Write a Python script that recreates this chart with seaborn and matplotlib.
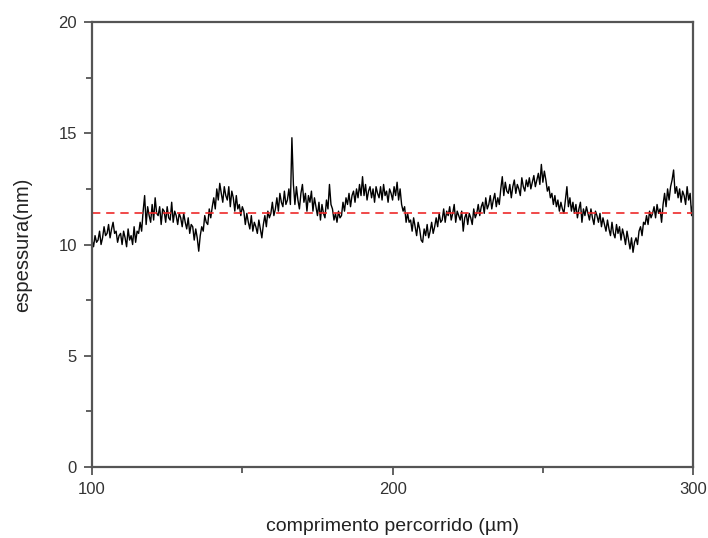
import matplotlib
matplotlib.use("Agg")
import matplotlib.pyplot as plt
from matplotlib.ticker import MultipleLocator
import numpy as np
import pandas as pd
import seaborn as sns

# Thickness profile sampled every 0.5 µm along the scan
x_start, x_stop, x_step = 100.0, 300.0, 0.5
thickness_nm = [
    10.2, 9.9, 10.4, 10.1, 10.2, 10.6, 10.0, 10.3, 10.8, 10.4,
    10.5, 10.9, 10.3, 10.7, 11.0, 10.5, 10.6, 10.1, 10.4, 10.5,
    10.0, 10.6, 10.3, 9.9, 10.7, 10.2, 10.4, 10.0, 10.8, 10.1,
    10.6, 10.5, 11.0, 10.6, 11.5, 12.2, 10.9, 11.7, 11.3, 11.0,
    11.8, 11.1, 12.1, 11.4, 11.3, 11.7, 10.9, 11.6, 11.5, 11.0,
    11.7, 11.2, 11.1, 11.9, 11.0, 11.5, 11.3, 10.9, 11.4, 11.2,
    10.8, 11.4, 11.0, 10.7, 11.2, 10.5, 10.9, 10.8, 10.2, 10.7,
    10.3, 9.7, 10.4, 10.8, 10.6, 11.3, 11.0, 10.9, 11.6, 11.2,
    11.7, 12.1, 11.6, 12.5, 12.0, 12.75, 12.3, 11.9, 12.6, 12.2,
    12.0, 12.6, 11.7, 12.4, 12.1, 11.5, 12.2, 11.6, 11.8, 11.3,
    11.7, 11.5, 10.9, 11.4, 11.0, 10.7, 11.3, 10.6, 11.0, 10.8,
    10.5, 11.1, 10.7, 10.3, 10.9, 11.3, 10.8, 11.5, 11.2, 11.4,
    11.9, 11.3, 11.6, 12.1, 11.5, 12.3, 11.9, 11.7, 12.4, 11.8,
    12.0, 12.5, 11.8, 14.8, 12.7, 11.8, 12.6, 12.0, 11.6, 12.3,
    12.7, 11.9, 12.3, 11.5, 12.2, 11.9, 12.4, 11.5, 12.1, 11.7,
    11.3, 11.9, 11.1, 11.8, 11.4, 11.2, 12.0, 11.6, 12.7, 11.8,
    11.6, 11.1, 11.4, 11.0, 11.5, 11.2, 11.3, 11.9, 11.5, 12.1,
    11.8, 12.3, 11.7, 12.2, 12.4, 11.9, 12.5, 12.1, 12.7, 12.2,
    13.05, 12.2, 12.7, 12.0, 12.4, 12.6, 12.1, 12.5, 11.9, 12.6,
    12.3, 12.1, 12.6, 12.0, 12.7, 12.2, 12.4, 11.9, 12.5, 12.3,
    12.0, 12.6, 12.2, 12.8, 12.0, 12.5, 11.8, 11.5, 11.7, 11.0,
    11.4, 11.0, 11.1, 10.6, 11.2, 10.8, 10.4, 11.0, 10.7, 10.2,
    10.1, 10.7, 10.4, 10.9, 10.3, 10.6, 11.0, 10.5, 10.8, 11.2,
    10.8, 11.4, 11.0, 11.1, 11.6, 11.0, 11.5, 11.3, 11.7, 11.1,
    11.4, 11.8, 11.0, 11.5, 11.3, 11.1, 11.5, 10.6, 11.2, 11.4,
    10.9, 11.4, 11.2, 10.9, 11.6, 11.2, 11.4, 11.8, 11.3, 11.7,
    11.9, 11.4, 12.1, 11.6, 11.8, 12.2, 11.6, 12.0, 12.3, 11.7,
    12.1, 11.8, 12.5, 13.05, 12.2, 12.8, 12.4, 12.3, 12.7, 12.1,
    12.6, 12.9, 12.3, 12.7, 12.5, 12.2, 13.0, 12.6, 12.4, 12.9,
    12.6, 13.0, 12.5, 12.8, 13.1, 12.6, 12.9, 13.2, 12.7, 13.6,
    12.8, 13.3, 12.9, 12.4, 12.6, 12.1, 12.3, 11.8, 12.2, 11.7,
    12.0, 11.5, 11.9, 11.6, 11.4, 12.0, 12.6, 11.7, 12.1, 11.5,
    11.9, 11.4, 11.8, 11.2, 11.6, 11.9, 11.0, 11.6, 11.3, 11.7,
    11.4, 11.1, 11.6, 11.2, 10.9, 11.5, 11.3, 11.0, 11.4, 10.8,
    11.2, 10.9, 10.6, 11.1, 10.7, 10.4, 11.0, 10.5, 10.3, 10.9,
    10.5, 10.8, 10.2, 10.7, 10.4, 10.0, 10.6, 10.2, 9.8, 10.3,
    9.65, 10.1, 10.3, 10.0, 10.6, 10.8, 10.4, 11.0, 10.9, 11.3,
    10.9, 11.5, 11.2, 11.4, 11.7, 11.2, 11.8, 11.4, 11.6, 11.0,
    11.8, 12.3, 11.7, 12.5, 12.0, 12.6, 12.9, 13.35, 12.3, 12.6,
    12.1, 12.5, 11.9, 12.4, 12.2, 11.8, 12.6, 12.0, 12.3, 11.3,
    12.0,
]
mean_thickness = 11.4

x_ticks = [100, 200, 300]
y_ticks = [0, 5, 10, 15, 20]

position_um = np.arange(x_start, x_stop + x_step / 2, x_step)
df = pd.DataFrame({"position": position_um, "thickness": thickness_nm})

sns.set_theme(style="white")
plt.rcParams["font.family"] = ["Liberation Sans", "DejaVu Sans"]

fig = plt.figure(figsize=(7.08, 5.38), dpi=100)
ax = fig.add_axes([0.130, 0.132, 0.849, 0.827])

sns.lineplot(data=df, x="position", y="thickness", ax=ax,
             color="black", linewidth=1.0, estimator=None)
ax.axhline(mean_thickness, color="#ee2a2a", linestyle=(0, (5, 3.5)),
           linewidth=1.2)

ax.set_xlim(x_ticks[0], x_ticks[-1])
ax.set_ylim(y_ticks[0], y_ticks[-1])
ax.set_xticks(x_ticks)
ax.set_yticks(y_ticks)
ax.xaxis.set_minor_locator(MultipleLocator(50))
ax.yaxis.set_minor_locator(MultipleLocator(2.5))

spine_color = "#555555"
for side in ["left", "bottom", "top", "right"]:
    ax.spines[side].set_visible(True)
    ax.spines[side].set_color(spine_color)
    ax.spines[side].set_linewidth(1.6)

ax.tick_params(axis="both", which="major", direction="out", length=6,
               width=1.3, color=spine_color, labelsize=12,
               labelcolor="#333333", pad=5,
               bottom=True, left=True, top=False, right=False)
ax.tick_params(axis="both", which="minor", direction="out", length=4,
               width=1.3, color=spine_color,
               bottom=True, left=True, top=False, right=False)

ax.set_xlabel("comprimento percorrido (µm)", fontsize=14, color="#222222",
              labelpad=15)
ax.set_ylabel("espessura(nm)", fontsize=14.5, color="#222222", labelpad=19)

fig.savefig("out.png", dpi=100)
